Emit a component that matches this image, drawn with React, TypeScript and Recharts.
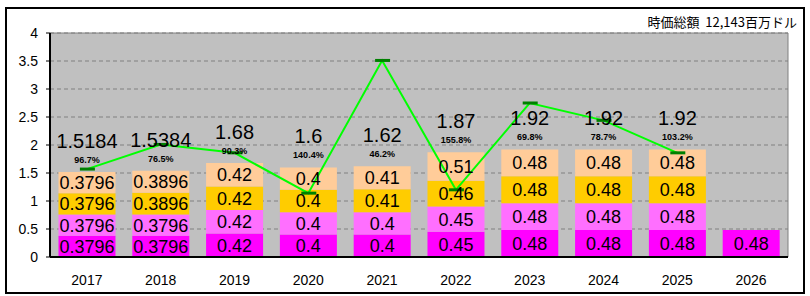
import { ComposedChart, Bar, Line, XAxis, YAxis, CartesianGrid, LabelList, ReferenceArea } from 'recharts';

const YEARS = ['2017', '2018', '2019', '2020', '2021', '2022', '2023', '2024', '2025', '2026'];
const Q1 = [0.3796, 0.3796, 0.42, 0.4, 0.4, 0.45, 0.48, 0.48, 0.48, 0.48];
const Q2 = [0.3796, 0.3796, 0.42, 0.4, 0.4, 0.45, 0.48, 0.48, 0.48, null];
const Q3 = [0.3796, 0.3896, 0.42, 0.4, 0.41, 0.46, 0.48, 0.48, 0.48, null];
const Q4 = [0.3796, 0.3896, 0.42, 0.4, 0.41, 0.51, 0.48, 0.48, 0.48, null];
const TOTALS = ['1.5184', '1.5384', '1.68', '1.6', '1.62', '1.87', '1.92', '1.92', '1.92', ''];
const PAYOUT = ['96.7%', '76.5%', '90.3%', '140.4%', '46.2%', '155.8%', '69.8%', '78.7%', '103.2%', ''];
const EPS = [1.57, 2.01, 1.86, 1.14, 3.51, 1.2, 2.75, 2.44, 1.86, null];
const Y_TICKS = [0, 0.5, 1, 1.5, 2, 2.5, 3, 3.5, 4];

const data = YEARS.map((year, i) => ({
    year,
    q1: Q1[i],
    q2: Q2[i],
    q3: Q3[i],
    q4: Q4[i],
    eps: EPS[i],
}));

const FONT = '"Liberation Sans", Arial, sans-serif';

function TotalLabel(props: any) {
    const { x, y, width, index } = props;
    if (!TOTALS[index]) return null;
    const cx = x + width / 2;
    return (
        <g>
            <text x={cx} y={y - 24} textAnchor="middle" fontSize={20} fill="#000" fontFamily={FONT}>
                {TOTALS[index]}
            </text>
            <text x={cx} y={y - 9} textAnchor="middle" fontSize={9} fontWeight="bold" fill="#000" fontFamily={FONT}>
                {PAYOUT[index]}
            </text>
        </g>
    );
}

function DashDot(props: any) {
    const { cx, cy, value } = props;
    if (value == null || cx == null || cy == null) return <g />;
    return <rect x={cx - 7} y={cy - 1.5} width={15} height={3} fill="#008000" />;
}

const segLabel = { position: 'center' as const, fontSize: 18, fill: '#000', fontFamily: FONT };

export default function App() {
    return (
        <div style={{ position: 'absolute', left: 0, top: 0, width: 810, height: 296, background: '#fff' }}>
            <div style={{ position: 'absolute', left: 5, top: 7, width: 800, height: 287, border: '2px solid #000', boxSizing: 'border-box' }} />
            <div style={{ position: 'absolute', right: 13, top: 14, fontSize: 13, fontFamily: '"Noto Sans CJK JP", sans-serif', color: '#000', lineHeight: '16px', whiteSpace: 'pre' }}>
                {'時価総額  12,143百万ドル'}
            </div>
            <div style={{ position: 'absolute', left: 0, top: 0 }}>
                <ComposedChart
                    width={810}
                    height={296}
                    data={data}
                    margin={{ top: 33, right: 22, bottom: 0, left: 0 }}
                    barCategoryGap="11.5%"
                    style={{ fontFamily: FONT }}
                >
                    <CartesianGrid vertical={false} stroke="#808080" strokeDasharray="4 3" fill="#C0C0C0" />
                    <XAxis
                        dataKey="year"
                        height={39}
                        axisLine={{ stroke: '#000', strokeWidth: 2 }}
                        tickLine={false}
                        tickMargin={12}
                        tick={{ fill: '#000', fontSize: 14, fontFamily: FONT }}
                    />
                    <YAxis
                        width={50}
                        domain={[0, 4]}
                        ticks={Y_TICKS}
                        interval={0}
                        axisLine={{ stroke: '#000', strokeWidth: 2 }}
                        tickLine={{ stroke: '#000' }}
                        tickSize={4}
                        tickMargin={8}
                        tick={{ fill: '#000', fontSize: 14, fontFamily: FONT }}
                    />
                    <ReferenceArea y1={0} y2={4} fill="none" stroke="#808080" strokeWidth={1} />
                    <Bar dataKey="q1" stackId="a" fill="#FF00FF" isAnimationActive={false}>
                        <LabelList dataKey="q1" {...segLabel} />
                    </Bar>
                    <Bar dataKey="q2" stackId="a" fill="#FF6FFF" isAnimationActive={false}>
                        <LabelList dataKey="q2" {...segLabel} />
                    </Bar>
                    <Bar dataKey="q3" stackId="a" fill="#FFCC00" isAnimationActive={false}>
                        <LabelList dataKey="q3" {...segLabel} />
                    </Bar>
                    <Bar dataKey="q4" stackId="a" fill="#FFCC99" isAnimationActive={false}>
                        <LabelList dataKey="q4" {...segLabel} />
                        <LabelList dataKey="q4" content={<TotalLabel />} />
                    </Bar>
                    <Line
                        dataKey="eps"
                        stroke="#00FF00"
                        strokeWidth={2}
                        dot={<DashDot />}
                        activeDot={false}
                        isAnimationActive={false}
                    />
                </ComposedChart>
            </div>
        </div>
    );
}
